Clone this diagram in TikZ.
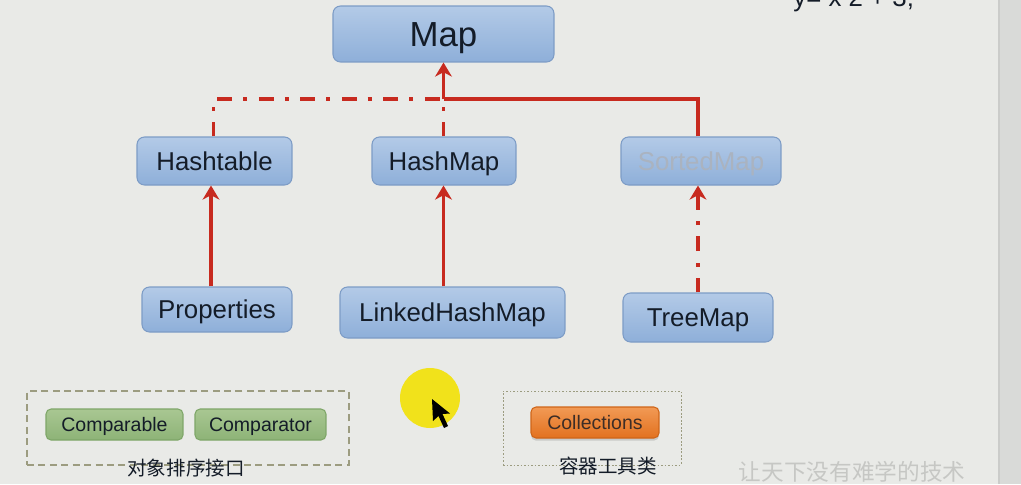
\documentclass[tikz,border=0pt]{standalone}
\usepackage{fontspec}
\setmainfont{Liberation Sans}
\newfontfamily\cjk{Noto Sans CJK SC}
\usepackage{tikz}
\usetikzlibrary{arrows.meta,positioning,calc,shadows}
\definecolor{Bg}{HTML}{E9EAE7}
\definecolor{Bar}{HTML}{D9DAD8}
\definecolor{BarLine}{HTML}{CBCCCA}
\definecolor{Ink}{HTML}{141C28}
\definecolor{BoxTop}{HTML}{B3CAE7}
\definecolor{BoxBot}{HTML}{8EAFD9}
\definecolor{BoxLine}{HTML}{7D9CC6}
\definecolor{Faded}{HTML}{AAB3C0}
\definecolor{GreenTop}{HTML}{A9C792}
\definecolor{GreenBot}{HTML}{8DB377}
\definecolor{GreenLine}{HTML}{7EA668}
\definecolor{OrangeTop}{HTML}{F29A55}
\definecolor{OrangeBot}{HTML}{E2711F}
\definecolor{OrangeLine}{HTML}{CF6518}
\definecolor{Red}{HTML}{C72A1F}
\definecolor{GroupLine}{HTML}{9C9C80}
\definecolor{Mark}{HTML}{C6C7C4}
\definecolor{Spot}{HTML}{F1E21B}

\begin{document}
\begin{tikzpicture}[x=0.02cm,y=-0.02cm,
  box/.style={draw=BoxLine,top color=BoxTop,bottom color=BoxBot,rounded corners=0.15cm,
    line width=0.6pt,text=Ink,font=\fontsize{14.7}{17}\selectfont,inner sep=0pt,
    text height=10.6pt,text depth=0pt},
  tag/.style={draw=GreenLine,top color=GreenTop,bottom color=GreenBot,rounded corners=0.1cm,
    line width=0.6pt,text=Ink,font=\fontsize{11.1}{13}\selectfont,inner sep=0pt,
    minimum height=0.62cm,text height=8pt,text depth=0pt},
  tool/.style={draw=OrangeLine,top color=OrangeTop,bottom color=OrangeBot,rounded corners=0.1cm,
    line width=0.6pt,text=Ink!80!OrangeBot,font=\fontsize{11.1}{13}\selectfont,inner sep=0pt,
    minimum height=0.62cm,text height=8pt,text depth=0pt,
    drop shadow={shadow xshift=0pt,shadow yshift=-1.5pt,opacity=0.3}},
  grp/.style={draw=GroupLine,line width=0.7pt,minimum height=1.48cm,inner sep=0pt},
  lbl/.style={font=\cjk\fontsize{11.1}{13}\selectfont,text=Ink,inner sep=0pt},
  arrow/.style={-{Stealth[length=8pt,width=9.5pt,inset=2.5pt]},line width=2.2pt,Red},
  solidline/.style={line width=2.2pt,Red},
  impl/.style={line width=2.2pt,Red,dash pattern=on 8.5pt off 6.2pt on 2.3pt off 6.6pt}]
  \useasboundingbox (0,0) rectangle (1021,484);
  \clip (0,0) rectangle (1021,484);
  \fill[Bg] (0,0) rectangle (1021,484);
  \fill[Bar] (999,0) rectangle (1021,484);
  \draw[BarLine,line width=0.8pt] (999,0) -- (999,484);
  \node[anchor=base west,font=\fontsize{14.7}{17}\selectfont,text=Ink,inner sep=0pt]
    (eqn) at (793,6) {y= x 2 + 3;};

  \node[box,minimum width=4.42cm,minimum height=1.12cm,
    font=\fontsize{19.8}{23}\selectfont,text height=14.3pt] (map) at (443.5,34) {Map};
  \node[box,minimum width=3.1cm,minimum height=0.96cm] (hasht) at (214.5,161) {Hashtable};
  \node[box,minimum width=2.88cm,minimum height=0.96cm] (hashm) at (444,161) {HashMap};
  \node[box,minimum width=3.2cm,minimum height=0.96cm,text=Faded] (sorted) at (701,161) {SortedMap};
  \node[box,minimum width=3.0cm,minimum height=0.9cm] (prop) at (217,309.5) {Properties};
  \node[box,minimum width=4.5cm,minimum height=1.02cm] (lhm) at (452.5,312.5) {LinkedHashMap};
  \node[box,minimum width=3.0cm,minimum height=0.98cm] (tree) at (698,317.5) {TreeMap};

  \coordinate (jn) at (443.5,99);
  \draw[solidline] (sorted.north -| tree.north) |- (jn);
  \draw[impl] (hasht.north -| prop.north) ++(-3.5,0) |- (jn);
  \draw[impl] (hashm.north -| map.south) -- (jn);
  \draw[arrow] (jn) -- (map.south);
  \draw[arrow] ([xshift=-0.07cm]prop.north -| hasht.south) -- ([xshift=-0.07cm]hasht.south -| hasht.south);
  \draw[arrow] (lhm.north -| map.south) -- (hashm.south -| map.south);
  \draw[impl,-{Stealth[length=8pt,width=9.5pt,inset=2.5pt]}] (tree.north) -- (tree.north |- sorted.south);

  \node[grp,minimum width=6.44cm,dash pattern=on 4pt off 2.5pt] (sortgrp) at (188,428) {};
  \node[tag,minimum width=2.74cm] (cmpable) at (114.5,424.5) {Comparable};
  \node[tag,minimum width=2.62cm] (cmptor) at (260.5,424.5) {Comparator};
  \node[lbl] (sortlbl) at (186,468) {对象排序接口};

  \node[grp,minimum width=3.56cm,line width=0.5pt,dash pattern=on 1pt off 1pt] (toolgrp) at (592,428) {};
  \node[tool,minimum width=2.56cm] (coll) at (595,422.5) {Collections};
  \node[lbl] (toollbl) at (608,466) {容器工具类};

  \node[font=\cjk\fontsize{12.9}{15}\selectfont,text=Mark,inner sep=0pt]
    (mark) at (852,472) {让天下没有难学的技术};

  \fill[Spot] (430,398) circle (0.6cm);
  \fill[black] (432,399) -- (433,421) -- (438.5,416) -- (444,428) -- (448,426)
    -- (442.5,414) -- (450,413.5) -- cycle;
\end{tikzpicture}
\end{document}
